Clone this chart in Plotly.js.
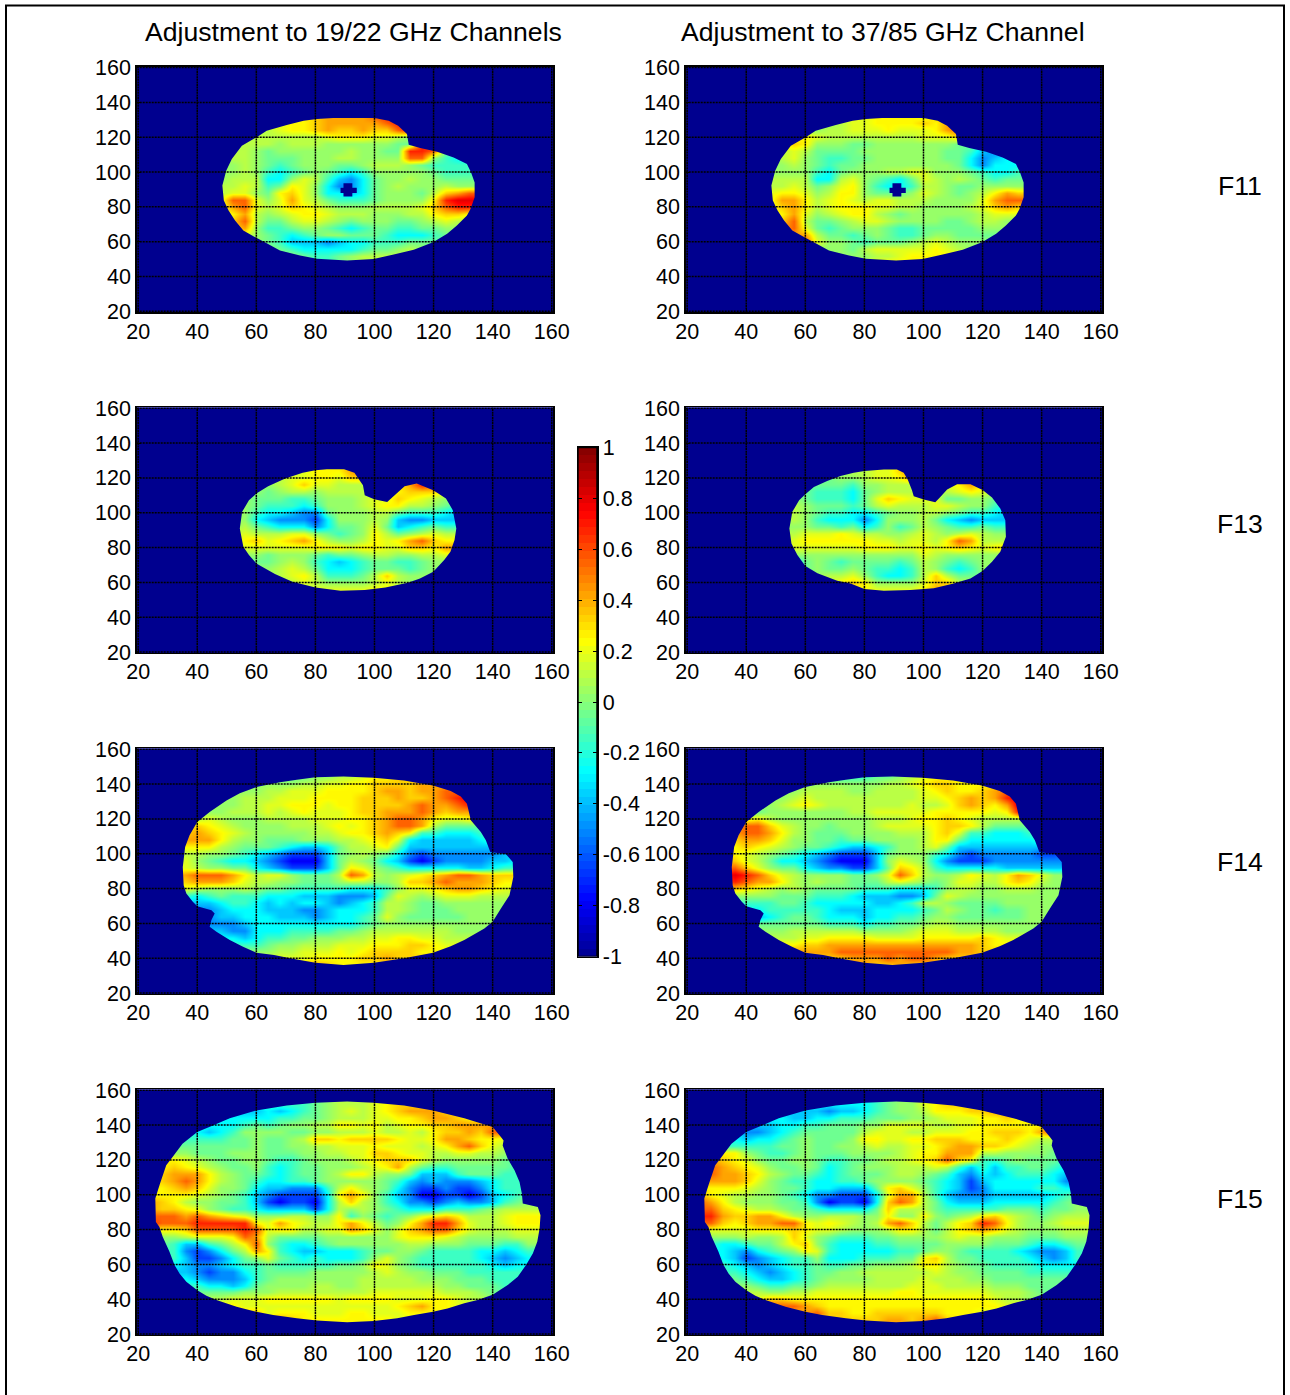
<!DOCTYPE html>
<html>
<head>
<meta charset="utf-8">
<script src="https://cdn.plot.ly/plotly-3.0.1.min.js"></script>
<style>body{margin:0;background:#fff}</style>
</head>
<body>
<div id="plot"></div>
<script>
// columns of the value grids, one every 4 units
let xCols = [20,24,28,32,36,40,44,48,52,56,60,64,68,72,76,80,84,88,92,96,100,104,108,112,116,120,124,128,132,136,140,144,148,152,156,160];
let axisTicks = [20,40,60,80,100,120,140,160];
let barTicks = [-1,-0.8,-0.6,-0.4,-0.2,0,0.2,0.4,0.6,0.8,1];
let barLabels = ['-1','-0.8','-0.6','-0.4','-0.2','0','0.2','0.4','0.6','0.8','1'];
let columnTitles = ['Adjustment to 19/22 GHz Channels','Adjustment to 37/85 GHz Channel'];
let rowNames = ['F11','F13','F14','F15'];

// each letter is a level
let levelChars = 'abcdefghijklmnop';
let levelValues = [-0.8,-0.65,-0.5,-0.38,-0.27,-0.15,-0.05,0.03,0.1,0.18,0.25,0.33,0.42,0.55,0.68,0.8];

// rows run top down, 4 units apart, "x of first cell:levels"
let topY = [132,128,148,156];

let f11Left = ['72:kklmmmmnooo','68:jkklmmmmmnoo','60:iijkklmllmllnoo','52:iiiiiiiijkkkjjihjoo','48:hhiiihiiihhhhhhggoon','48:iiihghhhhhhihhggoongff','48:hiihggghhhiihhhhnnhfee','48:hhihgfghhhgghiiihgffff','48:hhihfefghgfefhhhhhgfffg','48:hiiieehjifdceghhihhggg','48:iijifgkjhecceghihhhihh','48:ijjhgkljheedeghhhgilmn','48:jnnjhjmjigfffghhhhkopp','48:jmnjijlkjihhhiiiijlnoo','52:kmihijkkjiiihhhiikllk','52:lniggijjihghhhgghiji','52:lmhffghhgfefggffgghh','56:jhgfefghhgggfeeefg','60:hgfdddcdeefffggg','64:hgfeeeeefgghih','68:hhgffghiiiih','72:hgffghiiii'];
let f11Right = ['72:ijjkkkkjlmn','68:hijjkkkklkmnn','60:hhiijjjkjjjkmnn','52:kkkjiiiiiiiijjjlmk','48:jklkhhhgghhhhhhhggff','48:iijigggghhhhhhhggfdccc','48:hijhgffgghhhhhhggecdee','48:hhihgfgghhhhhhhhgeceee','48:hhhhfeghhhiijjhhhgfeef','48:iiiieeijhgfegjihihgfgg','48:iijighjkhfeefiihgghhhh','48:jkkjhikkhggghjihghikml','48:jmmkijkjijjiiihhhhjmnn','48:jlmkijkkkjjiihhhhijlml','52:kmjhijkkihghhhhhhijj','52:lnigghijjihhhhgghiih','52:mnjgfghhhgffggggghhh','56:mmiggfghgffghhgggg','60:njhhgfggghijihhh','64:hhhgijjjjjkjih','68:hhhhiijkkkkkjj','72:hhijkkkkkkk'];
let f13Left = ['72:jjkkkkllmn','72:ijkkkmnn','64:hijjkkjll','60:hhijljjiiiiikmon','56:hhghiihiiiiijklllj','52:hhgggffghhhijjlkjih','52:hhgfffefhhhijkkiihgf','52:hhfeedccghhhiigfffed','52:hhedcccbehhhihdccddd','52:higfeeecegghjgdefgff','52:ijiiijjhgfghkighijii','52:ikljklmkihhikjkmnlkk','52:ijjjjjjkkkjkkjjllkmm','52:hhhghhhgfgghiihhiij','56:ggghihfedefggffghh','56:fhhijigeeefgggfgh','60:hhijkifffgilihh','64:hhijihhhhijih','72:iijjjjjkkj','72:iijjjjjkkj'];
let f13Right = ['72:iijjjjklmm','72:hiijjlnn','64:gghhijjkmm','60:ggggfhhiiiiijkmk','56:hgfffeghiiiihijkji','52:hhgfffegjlkjjjgghhgg','52:hihgggfgijiiijjihhfe','52:iihgffeefghhiihgffed','52:hihfeeecehhhigedcddd','52:hhhggfgefhfgihgffgff','52:iijjjkjiihhijihijihh','52:ijkkkkkkjjijjiknmiii','52:ijjjjjjkkkjjkjklkjkl','52:hhhhhhhhhhhhjihhhhh','56:eghgfggggfgihgfghh','56:fghgghgffefihfefh','60:ghiijhfeefiligg','64:hiklkhhhhjlli','72:jkkjjjjkml','72:jkkjjjjkml'];
let f14Left = ['76:ghhiijkkll','76:ghhiijkkll','64:hhhiijjkkllllmmll','56:hhiijjjkkkklmmlmmnn','48:hhiiijjjkkkklllmllmnop','44:hhhiijjkkkjkkllllmnmmno','40:hhhiiijijkjjjkllmmmnmlmm','40:ijihhhiiiijjjkklmnnmkjjkk','36:klkjihhhhiiijkjklmnnmiggggf','36:lmlkjihhhhhiijkklmlkffeeeff','36:mmmkihhggghhhiijkljedddddef','36:kkkihgggfeddegiijkgdddddddd','32:iiihhgfedcbbbdghihgecbccccccdd','32:ijhgfeedcbaaadgihgedbabccccdde','32:jjihhggedcbbbdgkjhgfeeeeeddeff','32:lmnnnmkijjhggginmihijklmnnmlll','32:klmmmljiihhggghiihhillmnmmmlkk','32:ijihhhihggfffffeeefhjjklmmlkjj','36:fefgfffeeedddcccdgjihijjjiii','40:ddeffededeedcdefiihgghhhhhhh','44:cdeeedddccdeeefiihggghhhh','44:cddeeedddcdeefgjhggggghhh','44:cccdeeeeeeeeefghhhhhhhhh','48:dcceeeffffgghiiiiiiihh','52:edeffgghhhiijjkkjjii','56:ffghhiiijjjkkkllkj','64:hiijjjkjkllllkk','72:jjkkkkllml','80:mlkkkkk','80:mlkkkkk'];
let f14Right = ['76:ffgghijkkk','76:ffgghijkkk','64:hhhhhhiijkllkkkk','56:hiiiihhiiiijklkklmn','48:hhijiiiiiiiiijjklmlmop','44:hhijkjiiiiiiijiijlmlkmp','40:gghhhhhhhiijjjjjkkkkkjko','40:jkihhhhhhhhiiijkklkjiiiih','36:mnnljihhghhhijjjjkllkiggggg','36:mnnmkihggghhhhiiikljffeeefg','36:lmmljhhggfgghhhhikkgeeeeeef','36:klkjihggfeddefhhijgdddddddd','32:lkjihgfedcbbbdghhhfecbcccccbbc','32:mljigeedcbaaadhjihecbbbccccccc','32:nnljhggedccbbdglkifeeeeedddddd','32:oponljihhhhgghjnlihhikjikmljhh','32:nonmmkihihhgggijihghjjiiklkihh','32:klkjihihggggfffeeefhiihhiiihhh','36:hhhhgggfffedddccdgjihhhhhhhh','40:fffggfeeeeeddefiihgggghhhhh','44:efffffedddeeeefgihggfgghhh','44:defggfeeedeeffghhgggggghh','44:ggggggfffeffgghiihhhhhhh','48:hhiiiiiihhhhijjjiiiihh','52:iijjkkkkjjjjkkkkklkj','56:kllmmmmmmmmmmmmmlk','64:mmnnnnnnnnnnmml','72:lmmmnmnnml','80:mllmlll','80:mllmlll'];
let f15Left = ['76:fghiiijkll','76:fghiiijkll','60:dedefghijijklmmml','48:eeeeeffgghiiijjkklmmlk','40:feeefgfghhiikkjkijkkllmmmm','36:fedefhhhhgghhiiijiijikllmlnn','32:fffffgghgghillkllllkjjkmmlkkj','28:gggggggghgghhiijjjkjjjijkmnlji','28:hhhggghhhggghhiijjllkjjiijjiih','28:kkjihgghhgffghhhijkllljihhhhhgg','28:klkjihgghfefgghhhijkmigffgggggf','28:lmmmkihggfefgghikkihhgdddfgggff','28:lmnmkihgfeeffghhhhhgfdcdcccdeff','28:klmljhhgeddcccfikihgecbbcbbceff','24:kkkkjihgfdcbbbbekmkhfdcaabbabdefg','24:mlkihhggfdbabbaeilihfeccbcdccdfghh','24:mllkjhgffeddddbeihihgfeeefffghiiii','24:nnnmnmlkjhhhiihhkfhgfghjklkiiijkkk','24:onnnoooookjmkjiikmkighkmoomjiijkkk','28:kklnnnnonjkkiijjmljhjlmnnljiiijj','28:hhijjjknmigggghhhhhhjkkkjihhhhii','28:gfddfgiknhfeefghhhhhhiihhhgggffh','32:fcbcegimkfeddeeefgghhgffffeedef','32:fdbbceghjgfefeeefhjhgfffffedcde','32:edccdeffgfffffgghkjhgffffffede','36:dcbccefgggghhhhhijihhgggfffff','36:edcccdfghhhhhhhiiiiihhhgggfff','40:feedeghhhhiihhiiiiiiihhgggff','40:gggghhhiiiiiiiijjjjjjiiihgg','44:iijjjkkkkkkjkkkkjjjkkjiih','52:kjjjjjjjjjjjjjklmkkjj','60:ljkkkjjjkkjjjkkkk','68:mlkkkkkkkkjj','68:mlkkkkkkkkjj'];
let f15Right = ['76:eefghhjkll','76:eefghhjkll','60:ddcddefghhikkkllm','48:eeddeefffggghhijjjkklk','40:dddeeffggghhjjjjiijjkkkkkk','36:eccdefgggggijjjiijjjkklllkmn','32:eedeefghggghkkjjkklllkkklkjii','28:ffffffgghgghhijiijjklmmllkjihh','28:kkkhgffghggghhhhijkkmmmiihhhhg','28:mlkjhgghhgffgghiijklnlkffghgggf','28:nmlkjhgghgefghhhiiijifdfdffggfe','28:nmmlkihggfefggghiihgfdcedefffed','28:mmmljhgffeeffghhhhgfedbdeeeeeec','28:kkkjihggfeedddgkljhfedbceeeeffe','24:mkjiihhgfeccbbbejmmifdcccdddddefg','24:nmkihhhggfcabbaelnmigedddeeeeefghh','24:nnlkjiihggfeeeegliiigfffffgggfgghh','24:oomllmmkihhiiihhkhhkhghikljihghiii','24:nnlklmmnnkjkjihimnligiklonkihhijjj','28:jjjjkkklkjjihhhikkigiklmljihhhii','28:hhhihhiljhgfffgghhhhijiihhhggghh','28:feefggiklhfeeeffgggghhhhgggfeefg','32:edcefghkjfeeeeeffghhgffffedccdf','32:edbcdeffheeefffggkliggffffedcdf','32:fedcdeffgffgghhhikkihggffffeee','36:fedcdefgghhiiiiiijihhggggffff','36:gfeddefghhhhiiiijiiihhggggggg','40:hgffgghiiiiiiijjjiiiihhhgggg','40:iihhiijjjjjjjkkjjjjjjiiihgg','44:jllkkkkkkkkkkkkkkkkkjiihh','52:nnmlkkkkkkkkkkkkkkkjj','60:mnllkkllllllkkkjj','68:lllllmmlmnlk','68:lllllmmlmnlk'];

// outlines of the measured area, clockwise from the top
let f11EdgeX = [80.5,86,100,104.8,108,111,111.6,115.5,121.2,126.8,131.3,132.7,133.9,133.9,132.5,131.3,127.9,124.6,119.8,113.3,106.5,99.7,90.7,80.5,74.8,68,63.5,60,55.6,52.8,50.6,49,48.5,49.8,51.7,55.1,60,63.5,70.3,76];
let f11EdgeY = [130.4,131,131,129.4,126.6,121.8,115.7,113.8,111.7,108.4,104.6,99.8,94,85.5,78.8,75,69.3,64.5,59.7,55.3,52.6,50,49.2,50.2,52,55,59.1,62.2,66.4,72.1,77.9,83.6,92.2,100.8,107.5,115.1,119.9,123.7,127,129.4];
let f13LeftEdgeX = [80,83.9,89.7,93.2,94.4,96.1,96.7,99.9,104.3,107.2,110.2,114.3,119.9,124.2,126.5,127.7,127.1,125.7,123.6,119.9,115.4,111.3,103.7,96.7,88.5,80,72.2,66.3,60,57.5,55.6,54.4,55.2,57.5,60,64,69.8,75.7];
let f13LeftEdgeY = [124.4,125,125,122.9,120,115.8,110,107.8,106.2,110.6,115.2,116.8,112.9,108.2,101.5,91,84.3,77.6,72.8,66.1,62.3,59.8,57.1,55.6,55.2,57.1,60.4,64.8,70.9,75.7,80.4,91,100.5,107.2,111,115.2,119.6,122.9];
let f13RightEdgeX = [80,86.6,91,93.3,94.7,96.1,96.7,100.1,104,105.7,108,111.4,115.9,120,123.2,126,127.7,127.9,126,123.2,120,115.9,110.2,103.5,95.6,86.6,80,75.3,70.8,64.1,60,57.3,55.3,54.6,55.6,57.9,60,62.9,67.4,71.9,76.4];
let f13RightEdgeY = [124,124.8,124.8,123,119,112.9,109.5,107.6,106,109,113.3,116.4,116.4,113,108.7,102.4,95.7,86.2,77.6,71.8,66.5,62.3,59.4,56.6,55.6,55.2,56.2,59.4,61,65.2,69.4,75.7,82.4,91,100.5,107.2,110.6,114.8,118.3,121.1,123];
let f14EdgeX = [80,89.5,99.8,110,114.8,119.8,125.8,129.2,131.3,132.1,132.6,136,137.7,139.2,144.5,146.8,147,145.7,142.8,140,137.2,130.4,125.8,119.8,110,99.8,89.5,80,71.4,66,60,55.5,51,46.5,44.2,44.8,45.9,44.8,40,38.5,36.3,35.4,35.1,35.9,37.4,40,44.2,49.9,54.4,60,68,73.7];
let f14EdgeY = [144,144.4,143.6,142.1,140.6,139.2,136,132.9,128.7,123,119.2,112.5,107.7,101,99.7,95.3,86.7,76.2,68.6,60.9,57.1,50.4,46.8,43.2,40,37.4,36.1,37.4,40,41.8,43.2,46.6,50.4,55.2,58,61.9,65.7,67.6,69.9,72.4,77.2,81.9,92.4,103.9,110.6,118.2,124,130.6,134.8,138.3,141.1,142.5];
let f15EdgeX = [80,90.7,99.8,110,119.8,130.4,140,142.8,143.7,143.4,145.1,147.4,149.1,149.9,150.2,155.3,156.2,155.9,155.1,153.6,151.3,148.5,145.1,140,134.9,130.4,124.7,119.8,113.4,107.7,99.8,90.7,80.5,73.7,65.7,60,53.3,46.5,43.1,40,36.3,34,32.3,30.6,28.3,27.2,26,25.8,27.4,29.5,31.2,35,40,45.3,51,60,70.3];
let f15EdgeY = [152.8,153.6,152.8,151.3,148.4,144,138.9,133.1,131.2,128.3,120.7,114,107.3,100.6,94.9,93,88.2,80.6,73,66.3,59.6,52.9,48.1,42.5,39.6,37.7,34.7,32.8,30.9,29,27.5,26.7,27.7,29,30.9,32.8,35.7,39.5,42,45.2,50,54.8,59.6,67.2,75.8,81.5,84.4,97.8,106.4,116.9,120.7,129.3,136,139.8,144,148.4,151.3];
// the small gap at the centre of the F11 maps
let holeX = [89.5,92.5,92.5,94,94,92.5,92.5,89.5,89.5,88.5,88.5,89.5];
let holeY = [93.5,93.5,91,91,88,88,86,86,88,88,91,91];

let jet = [[0,'#00008f'],[0.111,'#0000ff'],[0.365,'#00ffff'],[0.619,'#ffff00'],[0.873,'#ff0000'],[1,'#800000']];
let mapBlue = '#00008f';
let fontName = '"Liberation Sans", Arial, sans-serif';
let W = 1290, H = 1395;
let lo = 19.5, hi = 160.5;

function decodeRows(rows) {
  return rows.map(function(row) {
    let parts = row.split(':');
    let first = (parseFloat(parts[0]) - xCols[0]) / 4;
    let codes = parts[1];
    return xCols.map(function(x, i) {
      let k = Math.min(Math.max(i - first, 0), codes.length - 1);
      return levelValues[levelChars.indexOf(codes[k])];
    });
  }).reverse();
}

function rowCentres(rows, top) {
  return rows.map(function(r, i) { return top - 4 * i; }).reverse();
}

// blue sheet with the outline cut out, so the map only shows inside it
function maskPath(edgeX, edgeY) {
  let x = [edgeX[0], hi, hi, lo, lo, edgeX[0]];
  let y = [hi, hi, lo, lo, hi, hi];
  for (let i = 0; i < edgeX.length; i++) {
    x.push(edgeX[i === 0 ? 0 : edgeX.length - i]);
    y.push(edgeY[i === 0 ? 0 : edgeY.length - i]);
  }
  x.push(edgeX[0], edgeX[0]);
  y.push(edgeY[0], hi);
  return {x: x, y: y};
}

let panels = [
  {rows: f11Left,  top: topY[0], ex: f11EdgeX, ey: f11EdgeY, hole: true},
  {rows: f11Right, top: topY[0], ex: f11EdgeX, ey: f11EdgeY, hole: true},
  {rows: f13Left,  top: topY[1], ex: f13LeftEdgeX, ey: f13LeftEdgeY},
  {rows: f13Right, top: topY[1], ex: f13RightEdgeX, ey: f13RightEdgeY},
  {rows: f14Left,  top: topY[2], ex: f14EdgeX, ey: f14EdgeY},
  {rows: f14Right, top: topY[2], ex: f14EdgeX, ey: f14EdgeY},
  {rows: f15Left,  top: topY[3], ex: f15EdgeX, ey: f15EdgeY},
  {rows: f15Right, top: topY[3], ex: f15EdgeX, ey: f15EdgeY}
];

let colLeft = [136.7, 685.7];
let panelW = 416.5;
let rowTop = [66.7, 407.4, 748.4, 1089.4];
let panelH = 245.5;

let traces = [];
let shapes = [];
let annotations = [];
let layout = {
  width: W, height: H,
  margin: {l: 0, r: 0, t: 0, b: 0},
  paper_bgcolor: '#fff',
  plot_bgcolor: mapBlue,
  showlegend: false,
  font: {family: fontName, color: '#000'}
};

function axisBase() {
  return {
    range: [lo, hi], tickmode: 'array', tickvals: axisTicks, ticktext: axisTicks.map(String),
    ticks: 'inside', ticklen: 4, tickcolor: '#000', tickwidth: 1,
    showline: true, mirror: true, linecolor: '#000', linewidth: 1.5,
    showgrid: false, zeroline: false, tickfont: {family: fontName, size: 21.5, color: '#000'}
  };
}

panels.forEach(function(p, n) {
  let id = n + 1;
  let xa = 'x' + id, ya = 'y' + id;
  let left = colLeft[n % 2], top = rowTop[Math.floor(n / 2)];

  let xaxis = axisBase();
  xaxis.domain = [left / W, (left + panelW) / W];
  xaxis.anchor = ya;
  xaxis.ticklabelstandoff = -1;
  let yaxis = axisBase();
  yaxis.domain = [1 - (top + panelH) / H, 1 - top / H];
  yaxis.anchor = xa;
  yaxis.ticklabelstandoff = 0;
  layout['xaxis' + id] = xaxis;
  layout['yaxis' + id] = yaxis;

  traces.push({
    type: 'heatmap', x: xCols, y: rowCentres(p.rows, p.top), z: decodeRows(p.rows),
    xaxis: xa, yaxis: ya, zmin: -1, zmax: 1, colorscale: jet, zsmooth: 'best',
    showscale: false, hoverinfo: 'skip'
  });

  let mask = maskPath(p.ex, p.ey);
  traces.push({
    type: 'scatter', mode: 'lines', x: mask.x, y: mask.y, xaxis: xa, yaxis: ya,
    fill: 'toself', fillcolor: mapBlue, line: {width: 0, simplify: false}, hoverinfo: 'skip'
  });
  if (p.hole) {
    traces.push({
      type: 'scatter', mode: 'lines', x: holeX, y: holeY, xaxis: xa, yaxis: ya,
      fill: 'toself', fillcolor: mapBlue, line: {width: 0}, hoverinfo: 'skip'
    });
  }

  // grid sits on top of the image
  axisTicks.forEach(function(t) {
    shapes.push({type: 'line', layer: 'above', xref: xa, yref: ya, x0: t, x1: t, y0: lo, y1: hi,
      line: {color: '#000', width: 1.5, dash: '2px,0.6px'}});
    shapes.push({type: 'line', layer: 'above', xref: xa, yref: ya, x0: lo, x1: hi, y0: t, y1: t,
      line: {color: '#000', width: 1.5, dash: '2px,1px'}});
  });
});

// colour bar, 64 bands like the map's palette
let barY = [], barZ = [];
for (let i = 0; i < 64; i++) {
  barY.push(-1 + (i + 0.5) / 32);
  barZ.push([-1 + (i + 0.5) / 32]);
}
traces.push({
  type: 'heatmap', x: [0.5], y: barY, z: barZ, xaxis: 'x9', yaxis: 'y9',
  zmin: -1, zmax: 1, colorscale: jet, showscale: false, hoverinfo: 'skip'
});
layout.xaxis9 = {
  domain: [578 / W, 597 / W], range: [0, 1], anchor: 'y9', showticklabels: false, ticks: '',
  showline: true, mirror: true, linecolor: '#000', linewidth: 1.5, showgrid: false, zeroline: false
};
layout.yaxis9 = {
  domain: [1 - 956.5 / H, 1 - 447.5 / H], range: [-1, 1], anchor: 'x9', side: 'right',
  tickmode: 'array', tickvals: barTicks, ticktext: barLabels, ticks: 'inside', ticklen: 4,
  tickcolor: '#000', showline: true, mirror: 'ticks', linecolor: '#000', linewidth: 1.5,
  showgrid: false, zeroline: false, tickfont: {family: fontName, size: 21.5, color: '#000'}
};
shapes.push({type: 'rect', layer: 'above', xref: 'x9', yref: 'y9', x0: 0, x1: 1, y0: -1, y1: 1,
  line: {color: '#000', width: 1.5}});

let titleX = [353.5, 883];
columnTitles.forEach(function(t, i) {
  annotations.push({xref: 'paper', yref: 'paper', x: titleX[i] / W, y: 1 - 32 / H, text: t,
    showarrow: false, xanchor: 'center', yanchor: 'middle', font: {family: fontName, size: 26.6, color: '#000'}});
});
let nameY = [186, 524, 862, 1199];
rowNames.forEach(function(t, i) {
  annotations.push({xref: 'paper', yref: 'paper', x: 1239.5 / W, y: 1 - nameY[i] / H, text: t,
    showarrow: false, xanchor: 'center', yanchor: 'middle', font: {family: fontName, size: 26.6, color: '#000'}});
});

// frame round the whole figure, it runs off the bottom of the page
shapes.push({type: 'rect', layer: 'above', xref: 'paper', yref: 'paper',
  x0: 6 / W, x1: 1284 / W, y0: -0.01, y1: 1 - 5.5 / H, line: {color: '#000', width: 2}});

layout.shapes = shapes;
layout.annotations = annotations;

Plotly.newPlot('plot', traces, layout, {displayModeBar: false, staticPlot: true});
</script>
</body>
</html>
